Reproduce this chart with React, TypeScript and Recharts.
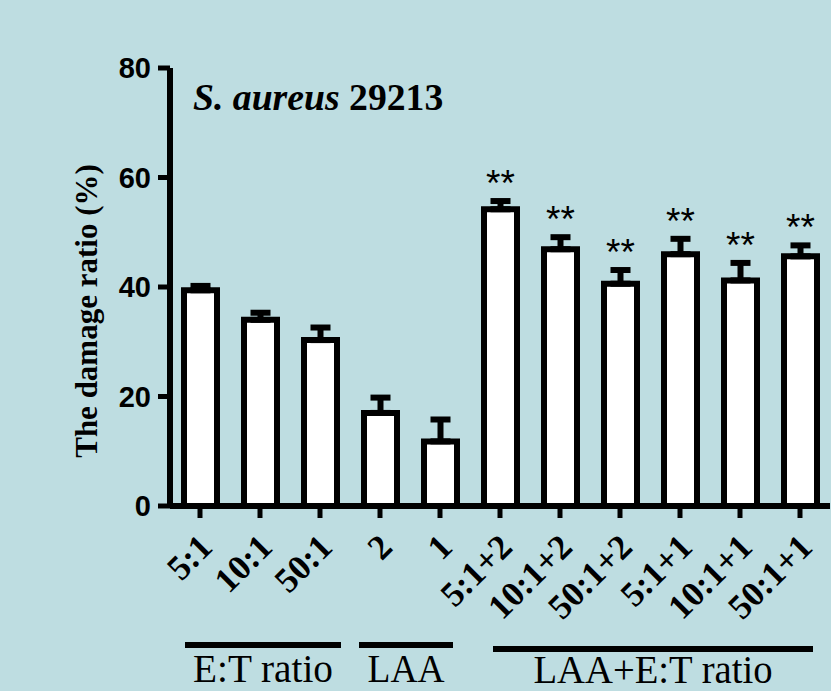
import { BarChart, Bar, XAxis, YAxis, ErrorBar, LabelList } from 'recharts'

const categories = ['5:1', '10:1', '50:1', '2', '1', '5:1+2', '10:1+2', '50:1+2', '5:1+1', '10:1+1', '50:1+1']
const values = [39.4, 34.0, 30.3, 17.0, 11.8, 54.2, 46.9, 40.6, 46.0, 41.2, 45.6]
const errors = [0.8, 1.3, 2.3, 2.8, 4.0, 1.5, 2.2, 2.5, 2.8, 3.2, 2.0]
const stars = ['', '', '', '', '', '**', '**', '**', '**', '**', '**']
const yTicks = [0, 20, 40, 60, 80]

const groups = [
  { name: 'E:T ratio', x1: 185, x2: 341, lineY: 645, textY: 682, textLen: 140 },
  { name: 'LAA', x1: 359, x2: 453, lineY: 645, textY: 682, textLen: 77 },
  { name: 'LAA+E:T ratio', x1: 493, x2: 813, lineY: 649, textY: 683, textLen: 239 },
]

const data = categories.map((name, i) => ({
  name,
  value: values[i],
  err: [0, errors[i]],
}))

const BG = '#bedde1'

const XTick = (props: any) => {
  const { x, y, payload } = props
  const ax = x + 6
  const ay = y + 21
  return (
    <text
      x={ax}
      y={ay}
      transform={`rotate(-45, ${ax}, ${ay})`}
      textAnchor="end"
      dominantBaseline="central"
      fontFamily="'Liberation Serif', serif"
      fontWeight="bold"
      fontSize={35}
      fill="#000"
    >
      {payload.value}
    </text>
  )
}

const StarLabel = (props: any) => {
  const { x, y, width, height, index } = props
  const s = stars[index]
  if (!s) return null
  const errPx = (errors[index] * height) / values[index]
  return (
    <text
      x={x + width / 2}
      y={y - errPx - 5}
      textAnchor="middle"
      fontFamily="'Liberation Sans', sans-serif"
      fontSize={37}
      fill="#000"
    >
      {s}
    </text>
  )
}

export default function App() {
  return (
    <div style={{ position: 'absolute', left: 0, top: 0, width: 831, height: 691, background: BG, overflow: 'hidden' }}>
      <BarChart
        width={831}
        height={691}
        data={data}
        margin={{ top: 68, right: 1, bottom: 0, left: 0 }}
      >
        <XAxis
          dataKey="name"
          interval={0}
          height={185}
          tick={<XTick />}
          tickSize={12}
          axisLine={{ stroke: '#000', strokeWidth: 6 }}
          tickLine={{ stroke: '#000', strokeWidth: 5 }}
        />
        <YAxis
          width={170}
          domain={[0, 80]}
          ticks={yTicks}
          interval={0}
          tickSize={12}
          tickMargin={7}
          axisLine={{ stroke: '#000', strokeWidth: 6 }}
          tickLine={{ stroke: '#000', strokeWidth: 5 }}
          tick={{ fill: '#000', fontSize: 29, fontWeight: 'bold', fontFamily: "'Liberation Sans', sans-serif" }}
        />
        <Bar dataKey="value" fill="#fff" stroke="#000" strokeWidth={6} barSize={33} isAnimationActive={false}>
          <ErrorBar dataKey="err" direction="y" width={10} stroke="#000" strokeWidth={6} />
          <LabelList dataKey="value" content={<StarLabel />} />
        </Bar>
      </BarChart>
      <svg width={831} height={691} style={{ position: 'absolute', left: 0, top: 0, pointerEvents: 'none' }}>
        <text
          x={193}
          y={110}
          fontFamily="'Liberation Serif', serif"
          fontWeight="bold"
          fontSize={37.7}
          fill="#000"
        >
          <tspan fontStyle="italic">S. aureus</tspan> 29213
        </text>
        <text
          transform="translate(97, 311) rotate(-90)"
          textAnchor="middle"
          fontFamily="'Liberation Serif', serif"
          fontWeight="bold"
          fontSize={31}
          fill="#000"
        >
          The damage ratio (%)
        </text>
        {groups.map((g) => (
          <g key={g.name}>
            <line x1={g.x1} x2={g.x2} y1={g.lineY} y2={g.lineY} stroke="#000" strokeWidth={6} />
            <text
              x={(g.x1 + g.x2) / 2}
              y={g.textY}
              textAnchor="middle"
              fontFamily="'Liberation Serif', serif"
              fontSize={40}
              textLength={g.textLen}
              lengthAdjust="spacingAndGlyphs"
              fill="#000"
            >
              {g.name}
            </text>
          </g>
        ))}
      </svg>
    </div>
  )
}
